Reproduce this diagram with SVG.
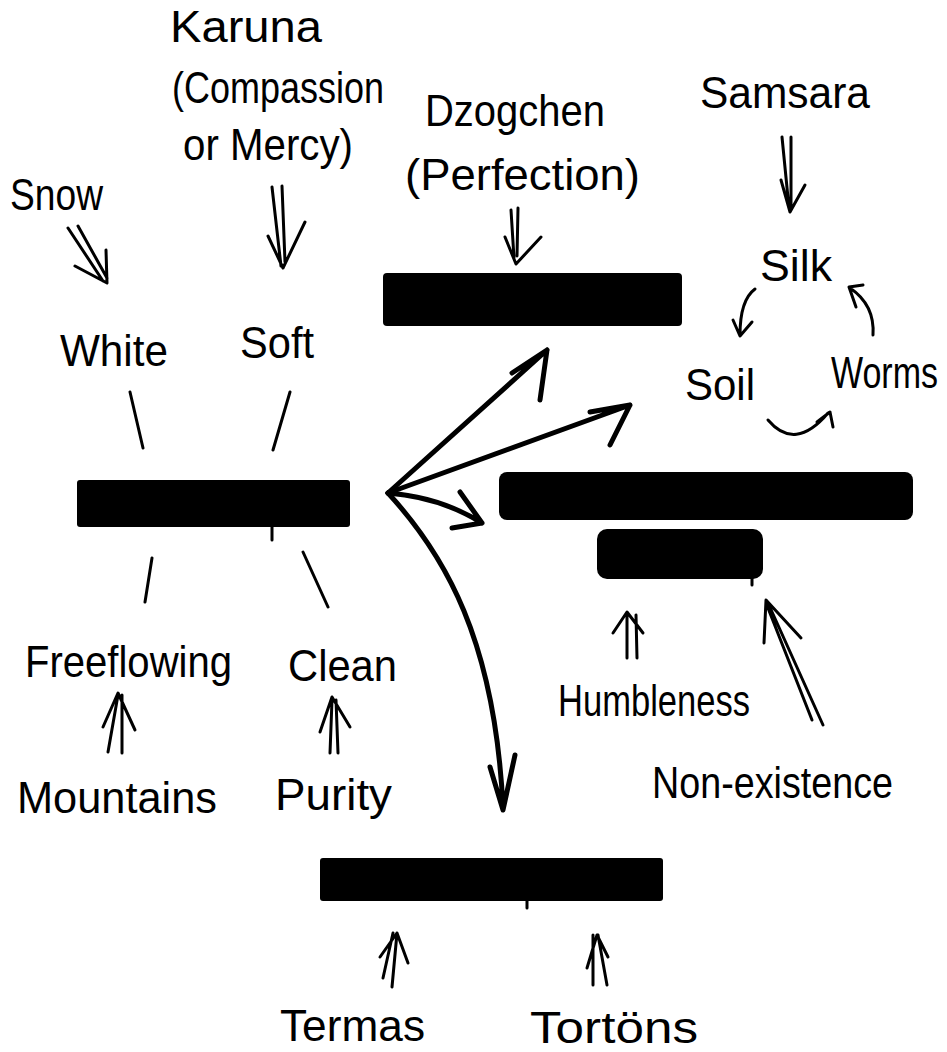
<svg xmlns="http://www.w3.org/2000/svg" width="947" height="1052" viewBox="0 0 947 1052">
<style>
text{font-family:"Liberation Sans","DejaVu Sans",sans-serif;font-size:44px;fill:#000}
.bar{fill:#000}
.thin{fill:none;stroke:#000;stroke-width:3;stroke-linecap:round;stroke-linejoin:round}
.thick{fill:none;stroke:#000;stroke-width:5;stroke-linecap:round;stroke-linejoin:round}
</style>
<rect width="947" height="1052" fill="#fff"/>
<g id="n-karuna"><text x="170" y="42" textLength="152" lengthAdjust="spacingAndGlyphs">Karuna</text><text x="172" y="103" textLength="212" lengthAdjust="spacingAndGlyphs">(Compassion</text><text x="183" y="160" textLength="170" lengthAdjust="spacingAndGlyphs">or Mercy)</text></g>
<g id="n-snow"><text x="10" y="210" textLength="93" lengthAdjust="spacingAndGlyphs">Snow</text></g>
<g id="n-dzogchen"><text x="425" y="126" textLength="180" lengthAdjust="spacingAndGlyphs">Dzogchen</text><text x="405" y="190" textLength="235" lengthAdjust="spacingAndGlyphs">(Perfection)</text></g>
<g id="n-samsara"><text x="700" y="108" textLength="170" lengthAdjust="spacingAndGlyphs">Samsara</text></g>
<g id="n-silk"><text x="760" y="281" textLength="72" lengthAdjust="spacingAndGlyphs">Silk</text></g>
<g id="n-soil"><text x="685" y="400" textLength="70" lengthAdjust="spacingAndGlyphs">Soil</text></g>
<g id="n-worms"><text transform="translate(831,388) scale(1,1.3)" style="font-size:34px">Worms</text></g>
<g id="n-white"><text x="60" y="366" textLength="108" lengthAdjust="spacingAndGlyphs">White</text></g>
<g id="n-soft"><text x="240" y="358" textLength="74" lengthAdjust="spacingAndGlyphs">Soft</text></g>
<g id="n-freeflowing"><text x="25" y="677" textLength="207" lengthAdjust="spacingAndGlyphs">Freeflowing</text></g>
<g id="n-clean"><text x="288" y="681" textLength="109" lengthAdjust="spacingAndGlyphs">Clean</text></g>
<g id="n-mountains"><text x="17" y="813" textLength="200" lengthAdjust="spacingAndGlyphs">Mountains</text></g>
<g id="n-purity"><text x="275" y="810" textLength="117" lengthAdjust="spacingAndGlyphs">Purity</text></g>
<g id="n-humbleness"><text x="558" y="716" textLength="192" lengthAdjust="spacingAndGlyphs">Humbleness</text></g>
<g id="n-nonexistence"><text x="652" y="798" textLength="241" lengthAdjust="spacingAndGlyphs">Non-existence</text></g>
<g id="n-termas"><text x="280" y="1041" textLength="145" lengthAdjust="spacingAndGlyphs">Termas</text></g>
<g id="n-tortons"><text x="530" y="1043" textLength="168" lengthAdjust="spacingAndGlyphs">Tortöns</text></g>
<g id="n-bar-left"><rect class="bar" x="77" y="480" width="273" height="47" rx="3"/></g>
<g id="n-bar-top"><rect class="bar" x="383" y="273" width="299" height="53" rx="4"/></g>
<g id="n-bar-right"><rect class="bar" x="499" y="472" width="414" height="48" rx="8"/></g>
<g id="n-bar-small"><rect class="bar" x="597" y="529" width="166" height="50" rx="10"/></g>
<g id="n-bar-bottom"><rect class="bar" x="320" y="858" width="343" height="43" rx="3"/></g>
<g id="connectors">
<path class="thin" d="M68,228 L103,281 M78,226 L107,278 M75,266 L107,283 L106,250"/>
<path class="thin" d="M272,187 L281,266 M282,186 L285,262 M268,236 L283,268 L305,222"/>
<path class="thin" d="M511,210 L514,258 M518,208 L517,256 M505,237 L516,264 L541,237"/>
<path class="thin" d="M782,137 L789,208 M791,137 L791,208 M781,180 L790,212 L805,185"/>
<path class="thin" d="M755,289 Q740,300 740,335 M733,320 L740,336 L752,322"/>
<path class="thin" d="M873,335 Q875,305 850,288 M863,285 L849,287 L856,307"/>
<path class="thin" d="M768,420 Q795,452 828,413 M817,422 L830,412 L833,427"/>
<path class="thin" d="M130,392 L143,448 M290,392 L273,450 M272,527 L272,540 M152,558 L145,602 M303,552 L328,607"/>
<path class="thick" d="M388,493 L547,350 M512,373 L547,350 L540,400"/>
<path class="thick" d="M388,493 L630,405 M590,412 L630,405 L610,445"/>
<path class="thick" d="M388,493 Q440,497 482,523 M460,492 L482,523 L452,528"/>
<path class="thick" d="M388,493 C445,555 495,640 503,808 M490,767 L503,810 L515,755"/>
<path class="thin" d="M108,752 L118,695 M122,753 L122,695 M103,727 L118,693 L135,730"/>
<path class="thin" d="M330,753 L332,700 M338,753 L336,700 M320,732 L332,697 L350,727"/>
<path class="thin" d="M627,658 L627,614 M637,658 L636,615 M613,633 L627,612 L643,633"/>
<path class="thin" d="M812,720 L766,603 M823,725 L768,603 M764,643 L766,600 L801,638"/>
<path class="thin" d="M752,579 L752,585"/>
<path class="thin" d="M392,987 L397,933 M383,978 L393,933 M380,957 L397,933 L408,963"/>
<path class="thin" d="M593,985 L593,935 M607,985 L598,935 M587,968 L597,935 L608,957"/>
<path class="thin" d="M527,901 L527,908"/>
</g>
</svg>
